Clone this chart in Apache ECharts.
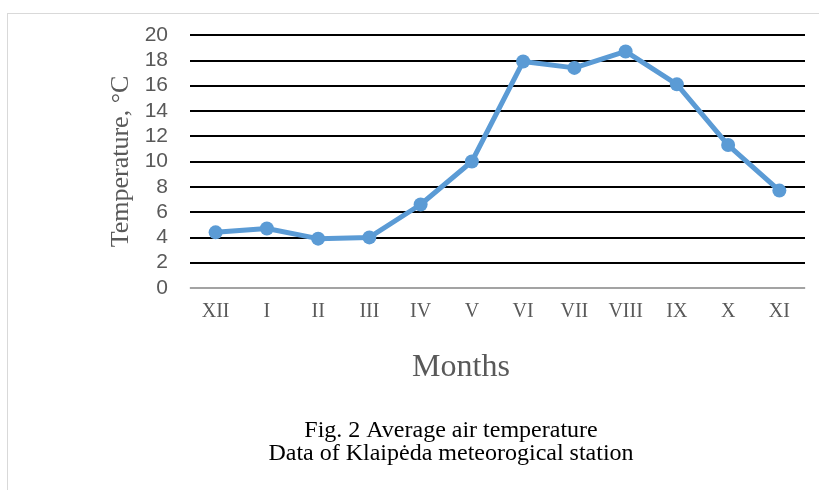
<!DOCTYPE html>
<html>
<head>
<meta charset="utf-8">
<script src="https://cdn.jsdelivr.net/npm/echarts@6/dist/echarts.min.js"></script>
<style>
  html, body { margin: 0; padding: 0; background: #fff; }
  #frame {
    position: absolute; left: 7px; top: 13px;
    width: 900px; height: 600px;
    border: 1px solid #d9d9d9;
  }
  #chart { position: absolute; left: 0; top: 0; width: 819px; height: 490px; }
</style>
</head>
<body>
<div id="frame"></div>
<div id="chart"></div>
<script>
// месяцы с декабря по ноябрь
const months = ['XII', 'I', 'II', 'III', 'IV', 'V', 'VI', 'VII', 'VIII', 'IX', 'X', 'XI']
const temperature = [4.4, 4.7, 3.9, 4.0, 6.6, 10.0, 17.9, 17.4, 18.7, 16.1, 11.3, 7.7]
const captionLines = ['Fig. 2 Average air temperature', 'Data of Klaipėda meteorogical station']

const serif = '"Liberation Serif", "DejaVu Serif", serif'

const chart = echarts.init(document.getElementById('chart'))
chart.setOption({
  animation: false,
  grid: { left: 190, right: 14, top: 35, bottom: 202 },
  xAxis: {
    type: 'category',
    data: months,
    boundaryGap: true,
    axisTick: { show: false },
    axisLine: { lineStyle: { color: '#d9d9d9', width: 1.5 } },
    axisLabel: { color: '#595959', fontFamily: serif, fontSize: 20, margin: 14, interval: 0 }
  },
  yAxis: {
    type: 'value',
    min: 0,
    max: 20,
    interval: 2,
    name: 'Temperature, °C',
    nameLocation: 'middle',
    nameGap: 56,
    nameTextStyle: { color: '#595959', fontFamily: serif, fontSize: 26 },
    axisLine: { show: false },
    axisTick: { show: false },
    axisLabel: { color: '#595959', fontFamily: '"Liberation Sans", Arial, sans-serif', fontSize: 21, margin: 22 },
    splitLine: { lineStyle: { color: '#000', width: 1.8 } }
  },
  graphic: [
    {
      type: 'text',
      style: { x: 461, y: 352, text: 'Months', font: '32px ' + serif, fill: '#595959', align: 'center' }
    },
    {
      type: 'text',
      style: {
        x: 451, y: 419,
        text: captionLines.join('\n'), font: '24px ' + serif, fill: '#000',
        align: 'center', lineHeight: 23
      }
    }
  ],
  series: [{
    type: 'line',
    data: temperature,
    symbol: 'circle',
    symbolSize: 14,
    lineStyle: { color: '#5b9bd5', width: 5 },
    itemStyle: { color: '#5b9bd5' }
  }]
})
</script>
</body>
</html>
